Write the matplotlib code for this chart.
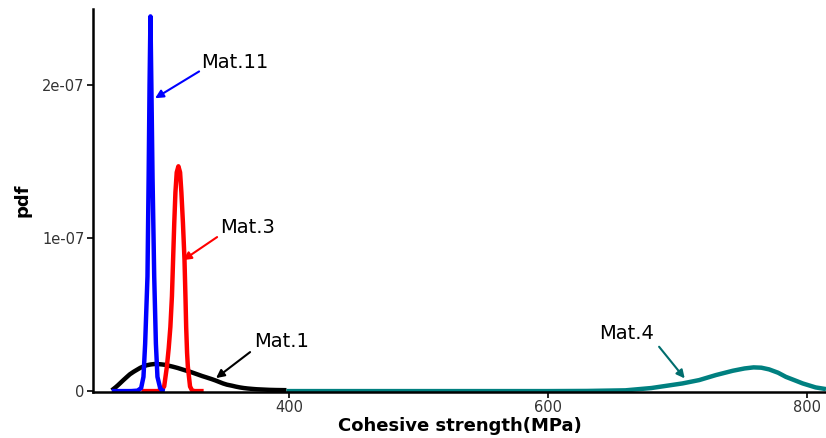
import matplotlib.pyplot as plt
import numpy as np

# Mat.1 (black)
x_m1 = [263, 266, 268, 270, 272, 275, 277, 280, 282, 285, 288, 290, 293, 296,
        298, 301, 304, 307, 310, 314, 317, 320, 324, 327, 330, 333, 336, 340,
        343, 346, 349, 352, 356, 359, 362, 365, 368, 372, 375, 380, 385, 390,
        398]
y_m1 = [0.005, 0.025, 0.04, 0.056, 0.072, 0.095, 0.11, 0.127, 0.137, 0.152,
        0.163, 0.169, 0.174, 0.177, 0.177, 0.175, 0.172, 0.166, 0.16, 0.151,
        0.143, 0.135, 0.125, 0.116, 0.107, 0.098, 0.09, 0.079, 0.07, 0.06,
        0.05, 0.042, 0.035, 0.029, 0.024, 0.02, 0.017, 0.014, 0.012, 0.01,
        0.008, 0.007, 0.006]

# Mat.4 (teal)
x_m4 = [398, 500, 600, 630, 660, 680, 692, 704, 717, 730, 743, 752, 759, 765,
        771, 778, 784, 791, 797, 807, 815]
y_m4 = [0.0, 0.0, 0.0, 0.001, 0.005, 0.02, 0.035, 0.05, 0.072, 0.105, 0.133,
        0.148, 0.155, 0.153, 0.142, 0.12, 0.093, 0.07, 0.05, 0.024, 0.013]

# Mat.3 (red)
x_m3 = [286, 298, 301, 303.5, 305.6, 307, 308.3, 309.5, 310.4, 311.3, 312.2,
        313.2, 314.5, 315.8, 316.8, 318, 319.2, 320, 320.5, 321.2, 321.8,
        323.5, 325, 327, 334]
y_m3 = [0.0, 0.0, 0.005, 0.03, 0.16, 0.28, 0.42, 0.62, 0.86, 1.1, 1.3, 1.43,
        1.47, 1.43, 1.3, 1.1, 0.86, 0.6, 0.42, 0.25, 0.16, 0.03, 0.005, 0.0,
        0.0]

# Mat.11 (blue)
x_m11 = [263, 278, 283, 285.7, 287.5, 288.8, 290.6, 291.5, 292.2, 292.9, 293.6,
         294.5, 295.8, 297.1, 298.3, 300.4, 302, 304]
y_m11 = [0.0, 0.0, 0.003, 0.02, 0.093, 0.31, 0.75, 1.4, 2.0, 2.45, 2.0, 1.4,
         0.75, 0.31, 0.093, 0.02, 0.003, 0.0]

scale = 1e-7

fig = plt.figure(figsize=(8.26, 4.38), dpi=100)
ax = fig.add_axes([0.1126, 0.105, 0.8874, 0.874])

lw = 3.2
ax.plot(x_m1, np.array(y_m1) * scale, color='black', lw=lw, solid_capstyle='butt')
ax.plot(x_m4, np.array(y_m4) * scale, color='#008080', lw=lw, solid_capstyle='butt')
ax.plot(x_m3, np.array(y_m3) * scale, color='red', lw=lw, solid_capstyle='butt')
ax.plot(x_m11, np.array(y_m11) * scale, color='blue', lw=lw, solid_capstyle='butt')

# labels with arrows: (text, text pos, arrow tail, arrow head, colour)
notes = [
    ('Mat.11', (332, 2.15), (330.5, 2.09), (296.5, 1.915), 'blue'),
    ('Mat.3', (346.7, 1.07), (344.4, 1.007), (318.1, 0.856), 'red'),
    ('Mat.1', (373, 0.327), (369.9, 0.255), (343.6, 0.085), 'black'),
    ('Mat.4', (639.4, 0.379), (686, 0.29), (705.8, 0.083), '#006d6d'),
]
for label, tpos, tail, head, col in notes:
    ax.text(tpos[0], tpos[1] * scale, label, fontsize=14, va='center', ha='left')
    ax.annotate('', xy=(head[0], head[1] * scale), xytext=(tail[0], tail[1] * scale),
                arrowprops=dict(arrowstyle='-|>', color=col, lw=1.5,
                                mutation_scale=12, shrinkA=0, shrinkB=0))

ax.set_xlim(248.5, 815)
ax.set_ylim(-0.006e-7, 2.497e-7)
ax.set_xticks([400, 600, 800])
ax.set_yticks([0, 1e-7, 2e-7])
ax.set_yticklabels(['0', '1e-07', '2e-07'])

for side in ['top', 'right']:
    ax.spines[side].set_visible(False)
for side in ['left', 'bottom']:
    ax.spines[side].set_linewidth(1.8)
ax.tick_params(axis='both', length=4, width=1.2, labelsize=10.5, colors='black',
               labelcolor='#333333', pad=2)

ax.set_xlabel('Cohesive strength(MPa)', fontsize=13, fontweight='bold', labelpad=1)
ax.set_ylabel('pdf', fontsize=13, fontweight='bold', labelpad=8)

fig.savefig('out.png', dpi=100)
